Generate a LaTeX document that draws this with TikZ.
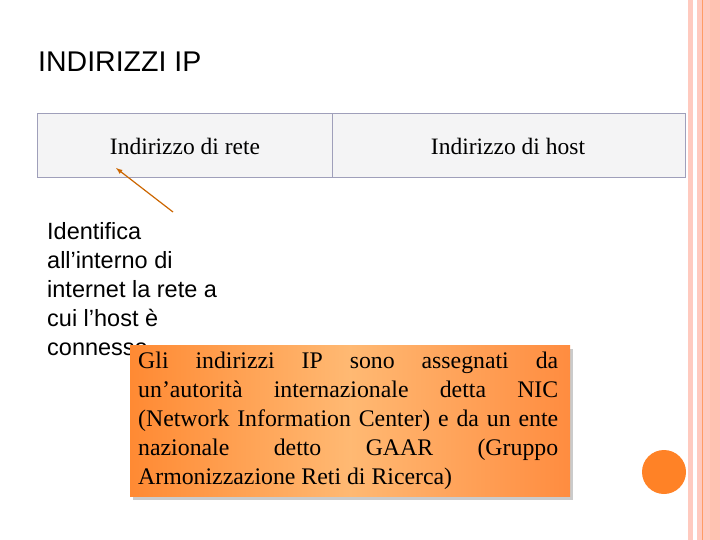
\documentclass[tikz,border=0pt]{standalone}
\usepackage{fontspec}
\setmainfont{Liberation Serif}
\newfontfamily\arial{Liberation Sans}
\begin{document}
\begin{tikzpicture}[x=1pt,y=-1pt,
  cell/.style={draw=black!30!blue!25!gray!60, fill=blue!4!gray!8, line width=1.2pt},
  stripe/.style={fill=orange!35!red!25}]
\useasboundingbox (0,0) rectangle (720,540);
\fill[white] (0,0) rectangle (720,540);
% right stripes
\fill[stripe] (688,0) rectangle (693,540);
\fill[stripe] (697,0) rectangle (720,540);
\fill[orange!40!red!30] (710,0) rectangle (720,540);
\draw[orange!70!red!60, line width=0.8pt] (702,0) -- (702,540);
\fill[orange!85!red!85!white] (664,472) circle (22);
% title
\node[anchor=base west, inner sep=0, font=\arial\fontsize{28.5}{34}\selectfont] (title) at (38,72) {INDIRIZZI IP};
% table
\node[cell, minimum width=295, minimum height=64, anchor=north west, inner sep=0] (rete) at (37,113) {};
\node[cell, minimum width=353, minimum height=64, anchor=north west, inner sep=0] (host) at (332,113) {};
\node[font=\fontsize{23.5}{28}\selectfont] at (185,146) {Indirizzo di rete};
\node[font=\fontsize{23.5}{28}\selectfont] at (508,146) {Indirizzo di host};
% left text
\node[anchor=north west, align=left, inner sep=0, font=\arial\fontsize{23.5}{29}\selectfont] (desc) at (47,222)
 {Identifica\\all’interno di\\internet la rete a\\cui l’host è\\connesso};
\coordinate (tail) at (173,212);
\draw[orange!80!black, line width=1.2pt, -latex] (tail) -- (116,168);
% orange box
\fill[black!40, opacity=0.5] (133,349) rectangle (573,500);
\shade[left color=orange!85!red!80!white, right color=orange!80!red!75!white, middle color=orange!55!white] (130,345) rectangle (570,496);
\node[anchor=north west, text width=420, align=justify, inner sep=0, font=\fontsize{23.8}{29}\selectfont] (info) at (138,352)
 {Gli indirizzi IP sono assegnati da\linebreak un’autorità internazionale detta NIC\linebreak (Network Information Center) e da un ente\linebreak nazionale detto GAAR (Gruppo\linebreak Armonizzazione Reti di Ricerca)};
\end{tikzpicture}
\end{document}
